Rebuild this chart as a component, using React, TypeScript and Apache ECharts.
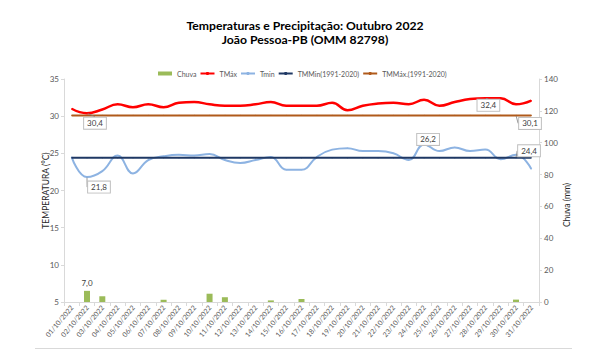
import React, { useEffect, useRef } from "react";
import * as echarts from "echarts";

const days: string[] = [
  "01/10/2022", "02/10/2022", "03/10/2022", "04/10/2022", "05/10/2022", "06/10/2022",
  "07/10/2022", "08/10/2022", "09/10/2022", "10/10/2022", "11/10/2022", "12/10/2022",
  "13/10/2022", "14/10/2022", "15/10/2022", "16/10/2022", "17/10/2022", "18/10/2022",
  "19/10/2022", "20/10/2022", "21/10/2022", "22/10/2022", "23/10/2022", "24/10/2022",
  "25/10/2022", "26/10/2022", "27/10/2022", "28/10/2022", "29/10/2022", "30/10/2022",
  "31/10/2022",
];

const chuva: number[] = [
  0, 7.0, 3.6, 0, 0, 0, 1.4, 0, 0, 5.2, 3.0, 0, 0, 1.0, 0, 1.9,
  0, 0, 0, 0, 0, 0, 0, 0, 0, 0, 0, 0, 0, 1.5, 0,
];

const tmax: number[] = [
  31.0, 30.4, 30.9, 31.6, 31.2, 31.6, 31.2, 31.8, 31.9, 31.6, 31.4, 31.4,
  31.6, 31.9, 31.4, 31.4, 31.4, 31.8, 30.8, 31.4, 31.7, 31.8, 31.6, 32.2,
  31.4, 31.9, 32.3, 32.4, 32.4, 31.6, 32.1,
];

const tmin: number[] = [
  24.5, 21.8, 22.6, 24.7, 22.3, 24.1, 24.6, 24.8, 24.7, 24.9, 24.1, 23.7,
  24.1, 24.5, 22.8, 22.8, 24.5, 25.5, 25.7, 25.3, 25.3, 25.0, 24.1, 26.2,
  25.3, 25.8, 25.3, 25.5, 24.2, 24.8, 22.9,
];

const tmmNormalMin = 24.4;
const tmmNormalMax = 30.1;

const leftTicks = { min: 5, max: 35, interval: 5 };
const rightTicks = { min: 0, max: 140, interval: 20 };

const fmt = (v: number) => v.toFixed(1).replace(".", ",");

const boxLabel = {
  show: true,
  position: "inside" as const,
  formatter: (p: any) => fmt(Array.isArray(p.value) ? p.value[1] : p.value),
  fontSize: 8,
  fontFamily: "Lato",
  color: "#404040",
  backgroundColor: "#ffffff",
  borderColor: "#bfbfbf",
  borderWidth: 1,
  padding: [1, 3],
  lineHeight: 9,
};

const guide = { show: true, lineStyle: { color: "#7f7f7f", width: 0.8 } };

// label placements (dx, dy relative to the point) keyed by data index
const tmaxLabels: Record<number, [number, number]> = { 1: [8, 10], 27: [3, 7] };
const tminLabels: Record<number, [number, number]> = { 1: [12, 10], 23: [4, -5] };
const tmmMinLabels: Record<number, [number, number]> = { 29: [13, -7] };
const tmmMaxLabels: Record<number, [number, number]> = { 29: [14, 8] };

function withLabels(values: number[], marks: Record<number, [number, number]>) {
  return values.map((v, i) => (marks[i] ? { value: v, label: boxLabel } : v));
}

function layoutFor(marks: Record<number, [number, number]>) {
  return (params: any) => {
    const m = marks[params.dataIndex];
    if (!m) return {};
    return { dx: m[0], dy: m[1] };
  };
}

export default function App() {
  const ref = useRef<HTMLDivElement>(null);

  useEffect(() => {
    if (!ref.current) return;
    const chart = echarts.init(ref.current, null, { renderer: "svg" });
    const axisColor = "#d9d9d9";
    const labelColor = "#595959";
    const font = "Lato";

    chart.setOption({
      animation: false,
      backgroundColor: "#ffffff",
      textStyle: { fontFamily: font },
      title: {
        text: "Temperaturas e Precipitação: Outubro 2022\nJoão Pessoa-PB (OMM 82798)",
        left: "center",
        top: 13,
        textStyle: {
          fontFamily: font,
          fontSize: 12.2,
          fontWeight: "bold",
          color: "#000000",
          lineHeight: 14,
        },
      },
      legend: {
        top: 65,
        left: 153,
        itemWidth: 14,
        itemHeight: 4,
        itemGap: 3,
        textStyle: { fontFamily: font, fontSize: 7, color: labelColor },
        data: [
          { name: "Chuva", icon: "rect" },
          "TMáx",
          "Tmin",
          "TMMin(1991-2020)",
          "TMMáx.(1991-2020)",
        ],
      },
      grid: { left: 64, right: 71, top: 79, bottom: 57, containLabel: false },
      xAxis: {
        type: "category",
        data: days,
        boundaryGap: true,
        axisLine: { show: true, lineStyle: { color: axisColor } },
        axisTick: { show: true, length: 4, lineStyle: { color: axisColor } },
        axisLabel: {
          interval: 0,
          rotate: 50,
          fontSize: 7,
          fontFamily: font,
          color: labelColor,
          margin: 4,
        },
        splitLine: { show: false },
      },
      yAxis: [
        {
          type: "value",
          min: leftTicks.min,
          max: leftTicks.max,
          interval: leftTicks.interval,
          name: "TEMPERATURA (°C)",
          nameLocation: "middle",
          nameGap: 14,
          nameMoveOverlap: false,
          nameTextStyle: { fontFamily: font, fontSize: 8.5, color: "#262626" },
          axisLine: { show: true, lineStyle: { color: axisColor } },
          axisTick: { show: true, length: 3, lineStyle: { color: axisColor } },
          axisLabel: { fontSize: 8, fontFamily: font, color: labelColor, margin: 5 },
          splitLine: { show: false },
        },
        {
          type: "value",
          min: rightTicks.min,
          max: rightTicks.max,
          interval: rightTicks.interval,
          position: "right",
          axisLine: { show: true, lineStyle: { color: axisColor } },
          axisTick: { show: true, length: 3, lineStyle: { color: axisColor } },
          axisLabel: { fontSize: 8, fontFamily: font, color: labelColor, margin: 5 },
          splitLine: { show: false },
        },
      ],
      graphic: [
        {
          type: "text",
          x: 567,
          y: 205,
          rotation: Math.PI / 2,
          style: {
            text: "Chuva (mm)",
            fontFamily: font,
            fontSize: 8.5,
            fill: "#262626",
            align: "center",
            verticalAlign: "middle",
          },
        },
        {
          type: "line",
          shape: { x1: 35, y1: 348.5, x2: 572, y2: 348.5 },
          style: { stroke: "#d9d9d9", lineWidth: 1 },
        },
      ],
      series: [
        {
          name: "Chuva",
          type: "bar",
          yAxisIndex: 1,
          barWidth: 6,
          itemStyle: { color: "#9bbb59" },
          data: chuva.map((v, i) =>
            i === 1
              ? {
                  value: v,
                  label: {
                    show: true,
                    position: "top",
                    distance: 4,
                    formatter: (p: any) => fmt(p.value),
                    fontSize: 8,
                    fontFamily: font,
                    color: "#404040",
                  },
                }
              : v
          ),
          z: 1,
        },
        {
          name: "TMáx",
          type: "line",
          smooth: 0.45,
          symbol: "circle",
          symbolSize: 1,
          showSymbol: true,
          lineStyle: { color: "#ff0000", width: 2.5 },
          itemStyle: { color: "#ff0000" },
          data: withLabels(tmax, tmaxLabels),
          labelLayout: layoutFor(tmaxLabels),
          labelLine: guide,
          z: 5,
        },
        {
          name: "Tmin",
          type: "line",
          smooth: 0.45,
          symbol: "circle",
          symbolSize: 1,
          showSymbol: true,
          lineStyle: { color: "#8db3e2", width: 2 },
          itemStyle: { color: "#8db3e2" },
          data: withLabels(tmin, tminLabels),
          labelLayout: layoutFor(tminLabels),
          labelLine: guide,
          z: 3,
        },
        {
          name: "TMMin(1991-2020)",
          type: "line",
          symbol: "circle",
          symbolSize: 1,
          showSymbol: true,
          lineStyle: { color: "#1f3864", width: 2 },
          itemStyle: { color: "#1f3864" },
          data: withLabels(days.map(() => tmmNormalMin), tmmMinLabels),
          labelLayout: layoutFor(tmmMinLabels),
          labelLine: guide,
          z: 4,
        },
        {
          name: "TMMáx.(1991-2020)",
          type: "line",
          symbol: "circle",
          symbolSize: 1,
          showSymbol: true,
          lineStyle: { color: "#b05a1b", width: 2 },
          itemStyle: { color: "#b05a1b" },
          data: withLabels(days.map(() => tmmNormalMax), tmmMaxLabels),
          labelLayout: layoutFor(tmmMaxLabels),
          labelLine: guide,
          z: 4,
        },
      ],
    });

    return () => chart.dispose();
  }, []);

  return <div ref={ref} style={{ width: 610, height: 359, margin: -8 }} />;
}
